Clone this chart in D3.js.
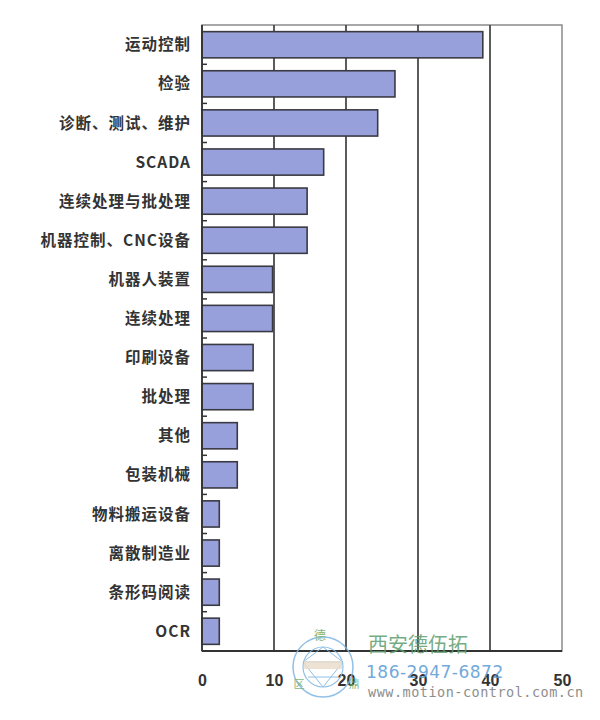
<!DOCTYPE html>
<html><head><meta charset="utf-8">
<script src="https://cdn.jsdelivr.net/npm/d3@7/dist/d3.min.js"></script>
<style>
html,body{margin:0;padding:0;background:#fff;}
svg{display:block;}
</style></head>
<body>
<svg id="chart" width="600" height="720"></svg>
<script>
const categories = ["运动控制","检验","诊断、测试、维护","SCADA","连续处理与批处理","机器控制、CNC设备","机器人装置","连续处理","印刷设备","批处理","其他","包装机械","物料搬运设备","离散制造业","条形码阅读","OCR"];
const values = [39, 26.8, 24.4, 16.9, 14.6, 14.6, 9.8, 9.8, 7.1, 7.1, 4.9, 4.9, 2.4, 2.4, 2.4, 2.4];
const xTicks = [0, 10, 20, 30, 40, 50];
const gridTicks = [10, 20, 30, 40];

const svg = d3.select("#chart");
const L = 202, R = 562, T = 25, B = 651;
const x = d3.scaleLinear().domain([0, 50]).range([L, R]);
const y = d3.scaleBand().domain(categories).range([T, B]).paddingInner(0.33).paddingOuter(0.17);
const cjk = "'Noto Sans CJK SC','Liberation Sans',Arial,sans-serif";

// frame (light top/right)
svg.append("rect").attr("x", L).attr("y", T).attr("width", R - L).attr("height", B - T)
  .attr("fill", "none").attr("stroke", "#8a8a8a").attr("stroke-width", 1.5);

// gridlines
svg.append("g").selectAll("line").data(gridTicks).join("line")
  .attr("x1", d => x(d)).attr("x2", d => x(d)).attr("y1", T).attr("y2", B)
  .attr("stroke", "#4a4a4a").attr("stroke-width", 1.8);

// bars
svg.append("g").selectAll("rect").data(categories).join("rect")
  .attr("x", x(0)).attr("y", d => y(d))
  .attr("width", (d, i) => x(values[i]) - x(0))
  .attr("height", y.bandwidth())
  .attr("fill", "#98a0dc").attr("stroke", "#3a3a44").attr("stroke-width", 1.6);

// left & bottom axis lines
svg.append("line").attr("x1", L).attr("x2", L).attr("y1", T).attr("y2", B)
  .attr("stroke", "#333").attr("stroke-width", 1.8);
svg.append("line").attr("x1", L).attr("x2", R).attr("y1", B).attr("y2", B)
  .attr("stroke", "#333").attr("stroke-width", 1.8);

// small inward ticks at band boundaries
const step = y.step();
svg.append("g").selectAll("line").data(categories.slice(1)).join("line")
  .attr("x1", L).attr("x2", L + 5)
  .attr("y1", d => y(d) - step * y.paddingInner() / 2)
  .attr("y2", d => y(d) - step * y.paddingInner() / 2)
  .attr("stroke", "#333").attr("stroke-width", 1.5);

// category labels
svg.append("g").selectAll("text").data(categories).join("text")
  .attr("x", 191).attr("y", d => y(d) + y.bandwidth() / 2)
  .attr("dy", "0.36em").attr("text-anchor", "end")
  .attr("font-family", cjk).attr("font-weight", "bold").attr("font-size", 15.5)
  .attr("letter-spacing", 1).attr("fill", "#333")
  .text(d => d);

// x axis labels
const xAxis = d3.axisBottom(x).tickValues(xTicks).tickSize(0).tickPadding(24).tickFormat(d3.format("d"));
const gx = svg.append("g").attr("transform", `translate(0,${B})`).call(xAxis);
gx.select(".domain").remove();
gx.selectAll("text").attr("font-family", "'Liberation Sans',Arial,sans-serif")
  .attr("font-weight", "bold").attr("font-size", 16).attr("fill", "#333");

// watermark
const wm = svg.append("g").attr("opacity", 0.85);
wm.append("circle").attr("cx", 323).attr("cy", 667).attr("r", 30)
  .attr("fill", "none").attr("stroke", "#7fb6e2").attr("stroke-width", 1.5);
wm.append("circle").attr("cx", 323).attr("cy", 667).attr("r", 20)
  .attr("fill", "none").attr("stroke", "#7fb6e2").attr("stroke-width", 1.2);
wm.append("path").attr("d", "M303,662 L343,662 M308,677 L338,677 M323,647 L303,662 L323,687 L343,662 Z")
  .attr("fill", "none").attr("stroke", "#7fb6e2").attr("stroke-width", 1);
wm.append("rect").attr("x", 304).attr("y", 661).attr("width", 38).attr("height", 8)
  .attr("fill", "#e6d6bf").attr("opacity", 0.8);
wm.append("text").attr("x", 320).attr("y", 640).attr("font-family", cjk).attr("font-size", 12)
  .attr("fill", "#6aaa6a").attr("text-anchor", "middle").text("德");
wm.append("text").attr("x", 299).attr("y", 688).attr("font-family", cjk).attr("font-size", 11)
  .attr("fill", "#6aaa6a").attr("text-anchor", "middle").text("区");
wm.append("text").attr("x", 354).attr("y", 688).attr("font-family", cjk).attr("font-size", 11)
  .attr("fill", "#6aaa6a").attr("text-anchor", "middle").text("鼎");
wm.append("text").attr("x", 368).attr("y", 652).attr("font-family", cjk).attr("font-size", 20)
  .attr("fill", "#5e9e6e").attr("letter-spacing", 0).text("西安德伍拓");
wm.append("text").attr("x", 366).attr("y", 678).attr("font-family", "'DejaVu Sans',sans-serif").attr("font-size", 17)
  .attr("fill", "#5b9bd5").attr("letter-spacing", 0.5).text("186-2947-6872");
wm.append("text").attr("x", 368).attr("y", 697).attr("font-family", "'DejaVu Sans Mono',monospace").attr("font-size", 13.5)
  .attr("fill", "#7a7a7a").attr("letter-spacing", 0.5).text("www.motion-control.com.cn");
</script>
</body></html>
